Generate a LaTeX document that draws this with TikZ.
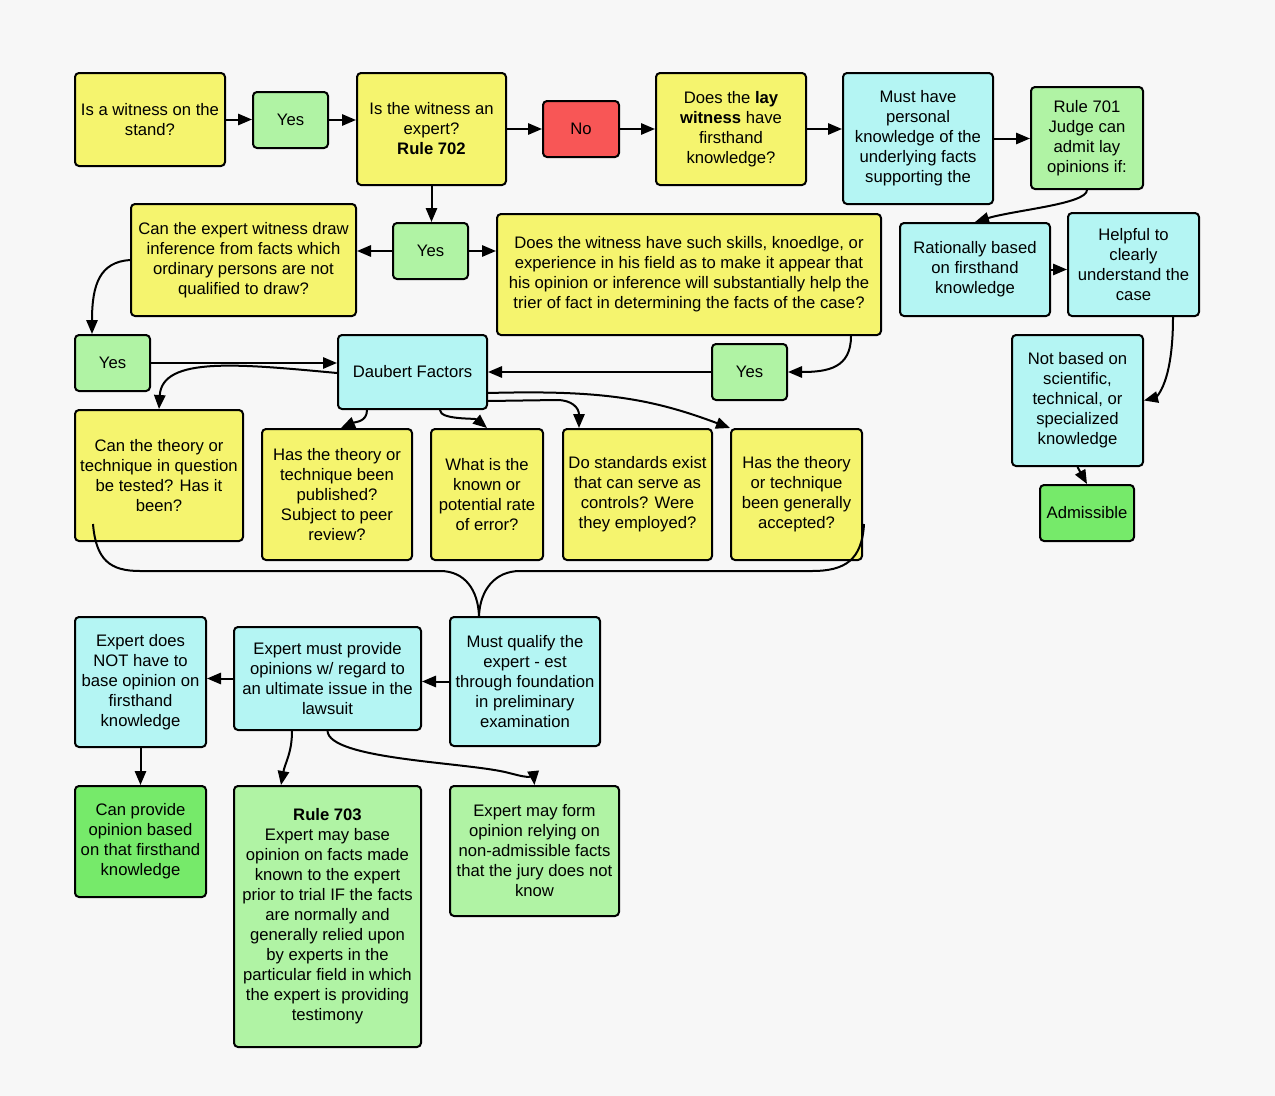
\documentclass[tikz,border=0pt]{standalone}
\usepackage{fontspec}
\setmainfont{Liberation Sans}
\usetikzlibrary{arrows.meta,calc}
\definecolor{bg}{HTML}{F7F7F7}
\definecolor{yel}{HTML}{F5F46E}
\definecolor{lgr}{HTML}{B0F3A4}
\definecolor{cya}{HTML}{B4F5F3}
\definecolor{redb}{HTML}{F85656}
\definecolor{bgr}{HTML}{76EA6A}
\newcommand\bx[7]{%
  \pgfmathsetmacro\bxcx{(#3+#5)/2}%
  \pgfmathsetmacro\bxcy{(#4+#6)/2}%
  \pgfmathsetmacro\bxw{(#5-#3)*0.75}%
  \pgfmathsetmacro\bxh{(#6-#4)*0.75}%
  \node[#2, minimum width=\bxw pt, minimum height=\bxh pt] (#1) at (\bxcx,\bxcy) {#7};}
\begin{document}
\begin{tikzpicture}[x=0.75pt,y=-0.75pt,
  box/.style={draw=black, line width=1.5pt, rounded corners=3pt, align=center, inner sep=1pt, font=\fontsize{12.5}{15}\selectfont},
  ybox/.style={box, fill=yel},
  gbox/.style={box, fill=lgr},
  cbox/.style={box, fill=cya},
  rbox/.style={box, fill=redb},
  bbox/.style={box, fill=bgr},
  conn/.style={line width=1.5pt, -{Triangle[length=10.5pt,width=8.5pt]}},
  plainline/.style={line width=1.5pt}]
\fill[bg] (0,0) rectangle (1275,1096);
\useasboundingbox (0,0) rectangle (1275,1096);

\bx{q1}{ybox}{75}{73}{225}{166}{Is a witness on the\\stand?}
\bx{yes1}{gbox}{253}{92}{328}{148}{Yes}
\bx{q2}{ybox}{357}{73}{506}{185}{Is the witness an\\expert?\\\textbf{Rule 702}}
\bx{no}{rbox}{543}{101}{619}{157}{No}
\bx{q3}{ybox}{656}{73}{806}{185}{Does the \textbf{lay}\\\textbf{witness} have\\firsthand\\knowledge?}
\bx{c1}{cbox}{843}{73}{993}{204}{Must have\\personal\\knowledge of the\\underlying facts\\supporting the}
\bx{g1}{gbox}{1031}{87}{1143}{189}{Rule 701\\Judge can\\admit lay\\opinions if:}
\bx{q4}{ybox}{131}{204}{356}{316}{Can the expert witness draw\\inference from facts which\\ordinary persons are not\\qualified to draw?}
\bx{yes2}{gbox}{393}{223}{468}{279}{Yes}
\bx{q5}{ybox}{497}{214}{881}{335}{Does the witness have such skills, knoedlge, or\\experience in his field as to make it appear that\\his opinion or inference will substantially help the\\trier of fact in determining the facts of the case?}
\bx{c2}{cbox}{900}{223}{1050}{316}{Rationally based\\on firsthand\\knowledge}
\bx{c3}{cbox}{1068}{213}{1199}{316}{Helpful to\\clearly\\understand the\\case}
\bx{yes3}{gbox}{75}{335}{150}{391}{Yes}
\bx{daub}{cbox}{338}{335}{487}{409}{Daubert Factors}
\bx{yes4}{gbox}{712}{344}{787}{400}{Yes}
\bx{c4}{cbox}{1012}{335}{1143}{466}{Not based on\\scientific,\\technical, or\\specialized\\knowledge}
\bx{adm}{bbox}{1040}{485}{1134}{541}{Admissible}
\bx{d1}{ybox}{75}{410}{243}{541}{Can the theory or\\technique in question\\be tested? Has it\\been?}
\bx{d2}{ybox}{262}{429}{412}{560}{Has the theory or\\technique been\\published?\\Subject to peer\\review?}
\bx{d3}{ybox}{431}{429}{543}{560}{What is the\\known or\\potential rate\\of error?}
\bx{d4}{ybox}{563}{429}{712}{560}{Do standards exist\\that can serve as\\controls? Were\\they employed?}
\bx{d5}{ybox}{731}{429}{862}{560}{Has the theory\\or technique\\been generally\\accepted?}
\bx{e1}{cbox}{75}{617}{206}{747}{Expert does\\NOT have to\\base opinion on\\firsthand\\knowledge}
\bx{e2}{cbox}{234}{627}{421}{730}{Expert must provide\\opinions w/ regard to\\an ultimate issue in the\\lawsuit}
\bx{e3}{cbox}{450}{617}{600}{746}{Must qualify the\\expert - est\\through foundation\\in preliminary\\examination}
\bx{f1}{bbox}{75}{786}{206}{897}{Can provide\\opinion based\\on that firsthand\\knowledge}
\bx{f2}{gbox}{234}{786}{421}{1047}{\textbf{Rule 703}\\Expert may base\\opinion on facts made\\known to the expert\\prior to trial IF the facts\\are normally and\\generally relied upon\\by experts in the\\particular field in which\\the expert is providing\\testimony}
\bx{f3}{gbox}{450}{786}{619}{916}{Expert may form\\opinion relying on\\non-admissible facts\\that the jury does not\\know}

% top row
\draw[conn] (q1.east) -- (q1.east -| yes1.west);
\draw[conn] (yes1.east) -- (yes1.east -| q2.west);
\draw[conn] (q2.east) -- (q2.east -| no.west);
\draw[conn] (no.east) -- (no.east -| q3.west);
\draw[conn] (q3.east) -- (q3.east -| c1.west);
\draw[conn] (c1.east) -- (c1.east -| g1.west);
\draw[conn] (g1.south) .. controls +(0,14) and +(40,-12) .. (c2.north);
\draw[conn] (c2.east) -- (c2.east -| c3.west);
\draw[conn] ($(c3.south east)+(-27,0)$) .. controls +(0,75) and +(8,-2) .. (c4.east);
\draw[conn] (c4.south) -- (adm.north);
% expert branch
\draw[conn] (q2.south) -- (q2.south |- yes2.north);
\draw[conn] (yes2.west) -- (yes2.west -| q4.east);
\draw[conn] (yes2.east) -- (yes2.east -| q5.west);
\draw[conn] (q4.west) .. controls (100,262) and ($(yes3.north west)+(18,-50)$) .. ($(yes3.north west)+(18,0)$);
\draw[conn] (yes3.east) -- (yes3.east -| daub.west);
\draw[conn] ($(q5.south east)+(-31,0)$) .. controls +(0,32) and +(40,0) .. (yes4.east);
\draw[conn] (yes4.west) -- (yes4.west -| daub.east);
% daubert factors
\draw[conn] ($(daub.west)+(0,1)$) .. controls (240,364) and (162,356) .. (d1.north);
\draw[conn] ($(daub.south west)+(30,0)$) .. controls +(0,12) and +(14,-6) .. ($(d2.north west)+(80,0)$);
\draw[conn] ($(daub.south west)+(103,0)$) .. controls +(0,10) and +(-12,-10) .. (d3.north);
\draw[conn] ($(daub.south east)+(0,-9)$) -- (557,400) .. controls (572,400) and ($(d4.north west)+(17,-20)$) .. ($(d4.north west)+(17,0)$);
\draw[conn] ($(daub.south east)+(0,-17)$) .. controls (600,390) and (650,398) .. (d5.north west);
% bracket
\draw[plainline] ($(d1.south west)+(19,-18)$) .. controls (96,560) and (110,571) .. (140,571) -- (440,571) .. controls (465,571) and (478,590) .. ($(e3.north west)+(30,0)$);
\draw[plainline] ($(d5.south east)+(1,-37)$) .. controls (862,560) and (845,571) .. (812,571) -- (520,571) .. controls (495,571) and (480,590) .. ($(e3.north west)+(30,0)$);
% bottom
\draw[conn] (e3.west) -- (e3.west -| e2.east);
\draw[conn] (e2.west) -- (e2.west -| e1.east);
\draw[conn] (e1.south) -- (e1.south |- f1.north);
\draw[conn] ($(e2.south west)+(59,0)$) .. controls +(0,22) and +(4,-22) .. ($(f2.north west)+(48,0)$);
\draw[conn] (e2.south) .. controls +(2,28) and (460,762) .. (505,772) .. controls (525,777) and (534,780) .. (f3.north);
\end{tikzpicture}
\end{document}
